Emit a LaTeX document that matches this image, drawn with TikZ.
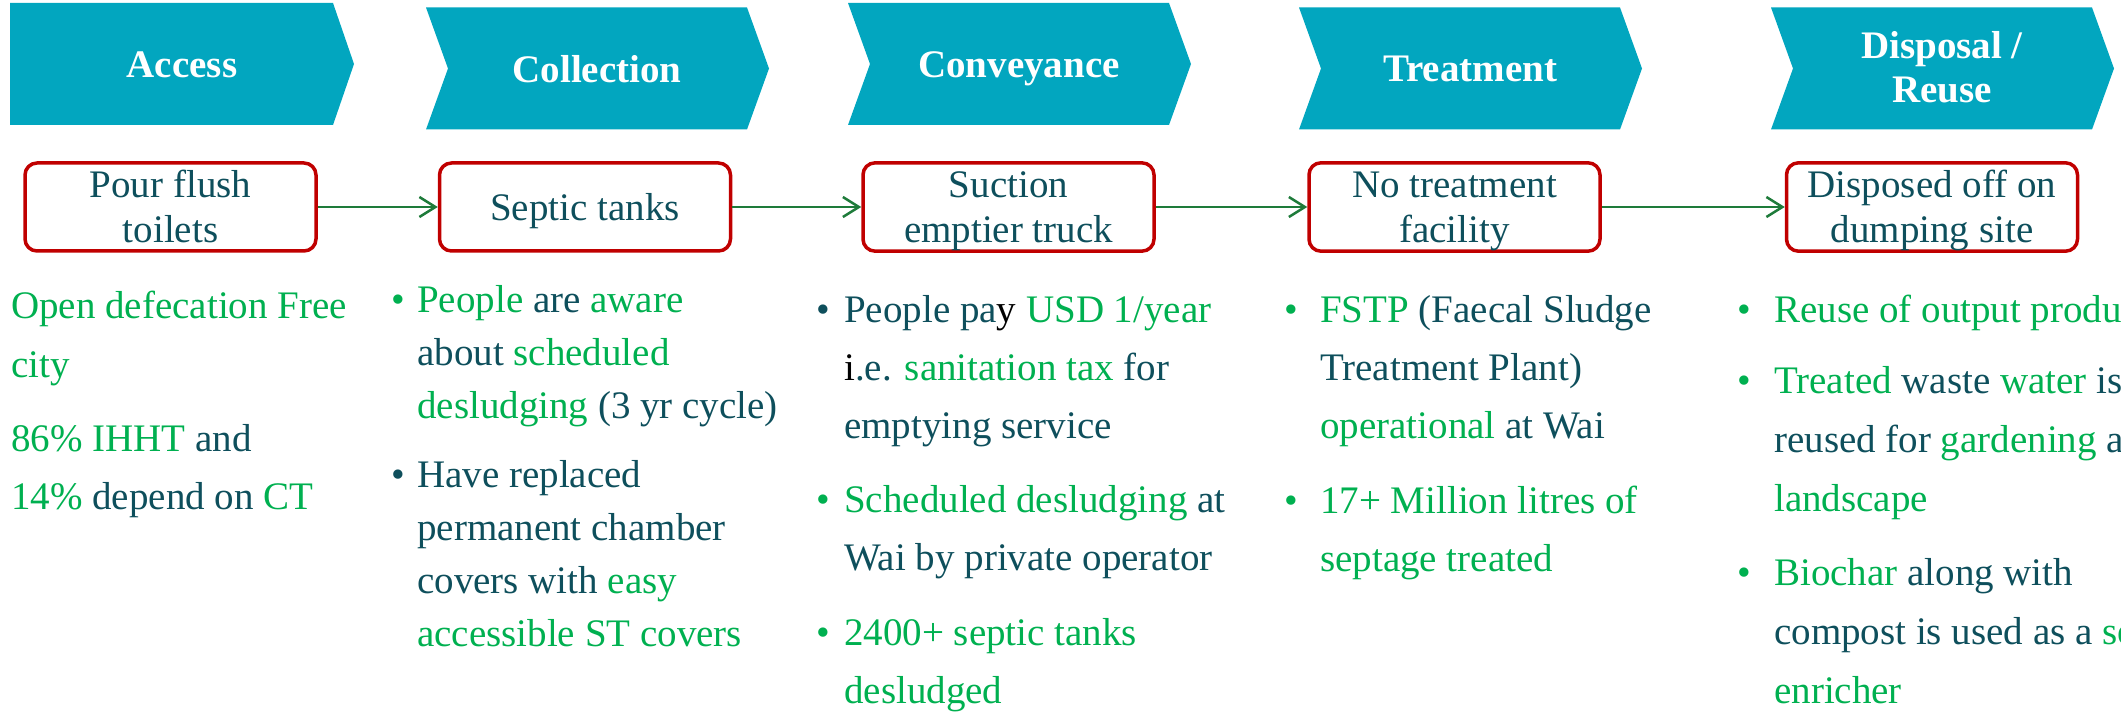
\documentclass[tikz,border=0pt]{standalone}
\usepackage{fontspec}
\setmainfont{Liberation Serif}
\usetikzlibrary{arrows.meta}

\definecolor{chevteal}{HTML}{02A6BF}
\definecolor{boxred}{HTML}{C00000}
\definecolor{flowgreen}{HTML}{1E7B3A}
\definecolor{keygreen}{HTML}{00B050}
\definecolor{darkteal}{HTML}{0E4F5C}

\newcommand{\grn}[1]{\textcolor{keygreen}{#1}}
\newcommand{\blk}[1]{\textcolor{black}{#1}}
% struts so every box text sits at the same height
\newcommand{\boxhi}{\rule{0pt}{35pt}}
\newcommand{\boxlo}{\rule[-8pt]{0pt}{8pt}}
% chevron with a notch: left x, top y
\newcommand{\stagechev}[2]{\fill[chev] (#1,#2) -- ++(321,0) -- ++(22,61) -- ++(-22,61) -- ++(-321,0) -- ++(22,-61) -- cycle;}

\tikzset{
  chev/.style={fill=chevteal},
  head/.style={anchor=base, inner sep=0pt, text=white, align=center, font=\bfseries\fontsize{39}{44}\selectfont},
  stage/.style={draw=boxred, line width=3.5pt, rounded corners=12pt, minimum width=291pt, minimum height=88pt,
    inner sep=0pt, align=center, text=darkteal, font=\fontsize{39}{45}\selectfont},
  flow/.style={draw=flowgreen, line width=2.5pt, -{Straight Barb[length=16pt,width=20pt]}},
  note/.style={anchor=base west, inner sep=0pt, align=left, text=darkteal, font=\fontsize{39}{58}\selectfont},
  tight/.style={font=\fontsize{39}{53}\selectfont},
  wide/.style={font=\fontsize{39}{59}\selectfont},
  dot/.style={anchor=base, inner sep=0pt, text=darkteal, font=\fontsize{39}{58}\selectfont},
}

\begin{document}
\begin{tikzpicture}[x=1pt,y=-1pt]
\useasboundingbox (0,0) rectangle (2121,714);
\clip (0,0) rectangle (2121,714);

% chevrons
\fill[chev] (10,3) -- (333,3) -- (354,64) -- (333,125) -- (10,125) -- cycle;
\stagechev{426}{7.5}
\stagechev{848}{3}
\stagechev{1299}{7.5}
\stagechev{1771}{7.5}

% multi-line nodes sit on the baseline of their last line
\node[head] (access) at (182,78) {Access};
\node[head] (collection) at (597,83) {Collection};
\node[head] (conveyance) at (1019,78) {Conveyance};
\node[head] (treatment) at (1470,82) {Treatment};
\node[head] (disposal) at (1942,103) {Disposal /\\Reuse};

% boxes
\node[stage] (pour) at (170.5,207) {\boxhi Pour flush\\toilets\boxlo};
\node[stage] (septic) at (585,207) {\boxhi Septic tanks\boxlo};
\node[stage] (suction) at (1008.5,207) {\boxhi Suction\\emptier truck\boxlo};
\node[stage] (notreat) at (1454.5,207) {\boxhi No treatment\\facility\boxlo};
\node[stage] (dumping) at (1932,207) {\boxhi Disposed off on\\dumping site\boxlo};

\draw[flow] (pour) -- (septic);
\draw[flow] (septic) -- (suction);
\draw[flow] (suction) -- (notreat);
\draw[flow] (notreat) -- (dumping);

% access
\node[note,wide] (odf) at (11,377) {\grn{Open defecation Free}\\\grn{city}};
\node[note] (ihht) at (11,509) {\grn{86\% IHHT} and\\\grn{14\%} depend on \grn{CT}};

% collection
\node[dot,text=keygreen] (cdot1) at (398,312) {\textbullet};
\node[note,tight] (aware) at (417,418) {\grn{People} are \grn{aware}\\about \grn{scheduled}\\\grn{desludging} (3 yr cycle)};
\node[dot] (cdot2) at (398,487) {\textbullet};
\node[note,tight] (covers) at (417,646) {Have replaced\\permanent chamber\\covers with \grn{easy}\\\grn{accessible ST covers}};

% conveyance
\node[dot] (vdot1) at (823,322) {\textbullet};
\node[note] (tax) at (844,438) {People pa\blk{y} \grn{USD 1/year}\\\blk{i}.e. \grn{sanitation tax} for\\emptying service};
\node[dot,text=keygreen] (vdot2) at (823,512) {\textbullet};
\node[note] (private) at (844,570) {\grn{Scheduled desludging} at\\Wai by private operator};
\node[dot,text=keygreen] (vdot3) at (823,645) {\textbullet};
\node[note] (tanks) at (844,703) {\grn{2400+ septic tanks}\\\grn{desludged}};

% treatment
\node[dot,text=keygreen] (tdot1) at (1291,322) {\textbullet};
\node[note] (fstp) at (1320,438) {\grn{FSTP} (Faecal Sludge\\Treatment Plant)\\\grn{operational} at Wai};
\node[dot,text=keygreen] (tdot2) at (1291,513) {\textbullet};
\node[note] (litres) at (1320,571) {\grn{17+ Million litres of}\\\grn{septage treated}};

% disposal / reuse
\node[dot,text=keygreen] (ddot1) at (1744,322) {\textbullet};
\node[note] (output) at (1774,322) {\grn{Reuse of output products}};
\node[dot,text=keygreen] (ddot2) at (1744,393) {\textbullet};
\node[note,wide] (water) at (1774,511) {\grn{Treated} waste \grn{water} is\\reused for \grn{gardening} and\\\grn{landscape}};
\node[dot,text=keygreen] (ddot3) at (1744,585) {\textbullet};
\node[note,wide] (biochar) at (1774,703) {\grn{Biochar} along with\\compost is used as a \grn{soil}\\\grn{enricher}};
\end{tikzpicture}
\end{document}
